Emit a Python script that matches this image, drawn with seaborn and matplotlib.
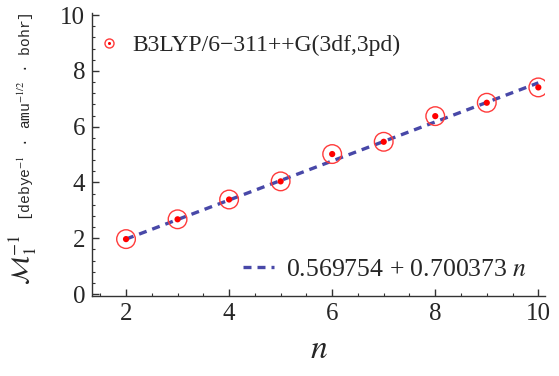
import numpy as np
import matplotlib
matplotlib.use("Agg")
import matplotlib.pyplot as plt
from matplotlib.ticker import MultipleLocator
from matplotlib.lines import Line2D
from matplotlib.legend_handler import HandlerTuple
import seaborn as sns

# data
n_vals = [2, 3, 4, 5, 6, 7, 8, 9, 10]
m_inv = [1.97, 2.68, 3.39, 4.04, 5.02, 5.46, 6.38, 6.86, 7.41]
fit_a = 0.569754
fit_b = 0.700373
series_label = "B3LYP/6\u2212311++G(3df,3pd)"
fit_label = "0.569754 + 0.700373 $n$"

sns.set_style("ticks")
plt.rcParams['font.family'] = ['Liberation Serif', 'DejaVu Serif']
plt.rcParams['mathtext.fontset'] = 'stix'

fig = plt.figure(figsize=(5.59, 3.76), dpi=100)
ax = fig.add_axes([0.1646, 0.2128, 0.8104, 0.752])

line_col = "#4848a8"
circ_col = "#ff3a3a"

fit_x = np.array([n_vals[0], n_vals[-1]])
fit_y = fit_a + fit_b * fit_x
sns.lineplot(x=fit_x, y=fit_y, ax=ax, color=line_col, lw=2.4,
             linestyle=(0, (2.4, 1.8)), legend=False)
sns.scatterplot(x=n_vals, y=m_inv, ax=ax, s=180, facecolor="none",
                edgecolor=circ_col, linewidth=1.0, legend=False, zorder=3)
sns.scatterplot(x=n_vals, y=m_inv, ax=ax, s=20, color="#ff0000",
                edgecolor="none", legend=False, zorder=4)

ax.set_xlim(1.34, 10.13)
ax.set_ylim(-0.07, 10.07)
ax.xaxis.set_major_locator(MultipleLocator(2))
ax.xaxis.set_minor_locator(MultipleLocator(0.5))
ax.yaxis.set_major_locator(MultipleLocator(2))
ax.yaxis.set_minor_locator(MultipleLocator(0.4))
ax.tick_params(which="major", direction="in", length=5, width=1, labelsize=18,
               color="#333333", pad=5)
ax.tick_params(which="minor", direction="in", length=2.5, width=0.8, color="#333333")
sns.despine(ax=ax)
for s in ["left", "bottom"]:
    ax.spines[s].set_color("#333333")
    ax.spines[s].set_linewidth(1)

# legends
h1 = (Line2D([], [], ls="none", marker="o", ms=6.5, mfc="none", mec=circ_col, mew=1),
      Line2D([], [], ls="none", marker="o", ms=2.2, mfc="#ff0000", mec="none"))
leg1 = ax.legend([h1], [series_label], loc="upper left", frameon=False, fontsize=17,
                 bbox_to_anchor=(-0.02, 0.965), handletextpad=0.4, handlelength=1.2,
                 borderpad=0, handler_map={tuple: HandlerTuple(ndivide=1)})
ax.add_artist(leg1)
h2 = Line2D([], [], color=line_col, lw=2.4, ls=(0, (2.4, 1.8)))
ax.legend([h2], [fit_label], loc="lower right", frameon=False, fontsize=18.5,
          bbox_to_anchor=(0.99, 0.008), handlelength=1.2, handletextpad=0.5, borderpad=0)

ax.set_xlabel("$n$", fontsize=24, labelpad=7)
fig.text(0.04, 0.31, r"$\mathcal{M}_1^{-1}$", rotation=90, fontsize=18, ha="center", va="center")
fig.text(0.047, 0.69, "[debye$^{-1}$ \u00b7 amu$^{-1/2}$ \u00b7 bohr]", rotation=90,
         fontsize=10.5, ha="center", va="center", family="Liberation Mono")

fig.savefig("out.png", dpi=100)
